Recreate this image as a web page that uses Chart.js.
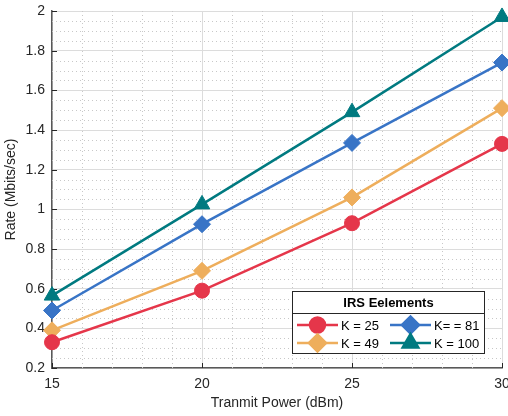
<!DOCTYPE html>
<html>
<head>
<meta charset="utf-8">
<script src="https://cdn.jsdelivr.net/npm/chart.js@4.4.1/dist/chart.umd.min.js"></script>
<style>
  html, body { margin: 0; padding: 0; background: #fff; }
  #wrap { width: 508px; height: 416px; }
</style>
</head>
<body>
<div id="wrap"><canvas id="chart" width="508" height="416"></canvas></div>
<script>
// data
const power = [15, 20, 25, 30];
const k25 = [0.33, 0.59, 0.93, 1.33];
const k49 = [0.39, 0.69, 1.06, 1.51];
const k81 = [0.49, 0.925, 1.335, 1.74];
const k100 = [0.565, 1.025, 1.49, 1.97];
const labels = ["K = 25", "K = 49", "K= = 81", "K = 100"];
const legendTitle = "IRS Eelements";

const FONT = "'Liberation Sans', Arial, Helvetica, sans-serif";

function pts(arr) {
  return arr.map((v, i) => ({ x: power[i], y: v }));
}

function ds(label, arr, color, style, radius) {
  return {
    label: label,
    data: pts(arr),
    borderColor: color,
    backgroundColor: color,
    borderWidth: 2.5,
    pointStyle: style,
    pointRadius: radius,
    pointBorderWidth: 1,
    pointBackgroundColor: color,
    pointBorderColor: color,
    clip: false,
    tension: 0
  };
}

// minor dotted grid + inward ticks
const minorGrid = {
  id: "minorGrid",
  beforeDatasetsDraw(chart) {
    const { ctx, chartArea: a, scales: { x, y } } = chart;
    ctx.save();
    ctx.strokeStyle = "#c8c8c8";
    ctx.lineWidth = 1;
    ctx.setLineDash([1, 3]);
    for (let v = 15; v <= 30; v += 1) {
      if (v % 5 === 0) continue;
      const px = Math.round(x.getPixelForValue(v)) + 0.5;
      ctx.beginPath(); ctx.moveTo(px, a.top); ctx.lineTo(px, a.bottom); ctx.stroke();
    }
    for (let i = 0; i <= 36; i++) {
      if (i % 4 === 0) continue;
      const v = 0.2 + i * 0.05;
      const py = Math.round(y.getPixelForValue(v)) + 0.5;
      ctx.beginPath(); ctx.moveTo(a.left, py); ctx.lineTo(a.right, py); ctx.stroke();
    }
    ctx.setLineDash([]);
    ctx.strokeStyle = "#262626";
    ctx.lineWidth = 1;
    power.forEach(v => {
      const px = Math.round(x.getPixelForValue(v)) + 0.5;
      ctx.beginPath(); ctx.moveTo(px, a.bottom); ctx.lineTo(px, a.bottom - 5); ctx.stroke();
    });
    for (let i = 0; i <= 9; i++) {
      const py = Math.round(y.getPixelForValue(0.2 + i * 0.2)) + 0.5;
      ctx.beginPath(); ctx.moveTo(a.left, py); ctx.lineTo(a.left + 5, py); ctx.stroke();
    }
    ctx.restore();
  }
};

// two-column legend box with a title
const boxLegend = {
  id: "boxLegend",
  afterDraw(chart) {
    const { ctx } = chart;
    const bx = 292.5, by = 291.5, bw = 192, bh = 62;
    ctx.save();
    ctx.fillStyle = "#fff";
    ctx.fillRect(bx, by, bw, bh);
    ctx.strokeStyle = "#262626";
    ctx.lineWidth = 1;
    ctx.strokeRect(bx, by, bw, bh);
    ctx.beginPath(); ctx.moveTo(bx, 313.5); ctx.lineTo(bx + bw, 313.5); ctx.stroke();
    ctx.fillStyle = "#000";
    ctx.font = "bold 13px " + FONT;
    ctx.textAlign = "center";
    ctx.textBaseline = "middle";
    ctx.fillText(legendTitle, bx + bw / 2, 303);
    const slots = [
      { x: 297, y: 325 }, { x: 297, y: 343 },
      { x: 390, y: 325 }, { x: 390, y: 343 }
    ];
    chart.data.datasets.forEach((d, i) => {
      const s = slots[i];
      ctx.strokeStyle = d.borderColor;
      ctx.lineWidth = 2.5;
      ctx.beginPath(); ctx.moveTo(s.x, s.y); ctx.lineTo(s.x + 41, s.y); ctx.stroke();
      Chart.helpers.drawPoint(ctx, {
        pointStyle: d.pointStyle, radius: d.pointRadius, borderWidth: 1, rotation: 0
      }, s.x + 20.5, s.y);
      ctx.fillStyle = d.borderColor;
      ctx.fill();
      ctx.fillStyle = "#000";
      ctx.font = "13px " + FONT;
      ctx.textAlign = "left";
      ctx.fillText(d.label, s.x + 44, s.y + 1);
    });
    ctx.restore();
  }
};

new Chart(document.getElementById("chart"), {
  type: "line",
  data: {
    datasets: [
      ds(labels[0], k25, "#e5364a", "circle", 7.5),
      ds(labels[1], k49, "#eeae5c", "rectRot", 8.5),
      ds(labels[2], k81, "#3874c6", "rectRot", 8.5),
      ds(labels[3], k100, "#007a80", "triangle", 9)
    ]
  },
  options: {
    responsive: false,
    animation: false,
    layout: { autoPadding: false, padding: { top: 11, right: 6, left: 0, bottom: 0 } },
    plugins: { legend: { display: false }, tooltip: { enabled: false } },
    scales: {
      x: {
        type: "linear",
        min: 15, max: 30,
        afterFit(s) { s.height = 48; s.paddingLeft = 0; s.paddingRight = 0; },
        ticks: { stepSize: 5, color: "#262626", font: { family: FONT, size: 14 }, padding: 8, maxRotation: 0 },
        grid: { color: "#dcdcdc", lineWidth: 1, drawTicks: false },
        border: { color: "#595959", width: 1.5 },
        title: { display: true, text: "Tranmit Power (dBm)", color: "#262626", font: { family: FONT, size: 14 }, padding: { top: 0, bottom: 4 } }
      },
      y: {
        min: 0.2, max: 2,
        afterFit(s) { s.width = 52; s.paddingTop = 0; s.paddingBottom = 0; },
        ticks: {
          stepSize: 0.2, color: "#262626", font: { family: FONT, size: 14 }, padding: 7,
          callback: v => String(Number(v.toFixed(1)))
        },
        grid: { color: "#dcdcdc", lineWidth: 1, drawTicks: false },
        border: { color: "#595959", width: 1.5 },
        title: { display: true, text: "Rate (Mbits/sec)", color: "#262626", font: { family: FONT, size: 14 }, padding: { top: 3, bottom: 0 } }
      }
    }
  },
  plugins: [minorGrid, boxLegend]
});
</script>
</body>
</html>
